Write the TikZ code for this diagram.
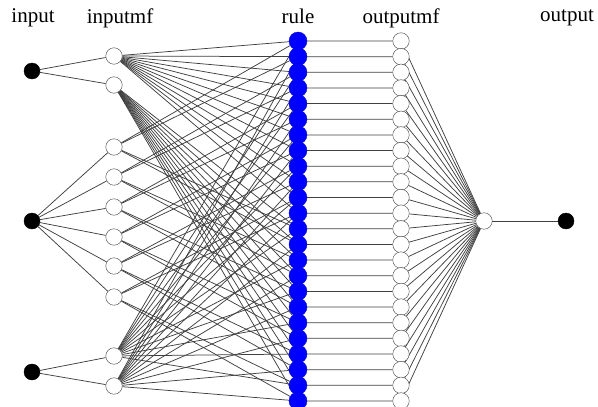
\documentclass[tikz,border=0pt]{standalone}
\usepackage{fontspec}
\setmainfont{Liberation Serif}
\usetikzlibrary{backgrounds}
\begin{document}
\begin{tikzpicture}[x=1pt,y=-1pt,
  instyle/.style={circle,draw=black,fill=black,inner sep=0pt,minimum size=16},
  mfstyle/.style={circle,draw=black!75,fill=white,inner sep=0pt,minimum size=16.5},
  rulestyle/.style={circle,draw=blue!85!black,fill=blue,inner sep=0pt,minimum size=18},
  wire/.style={draw=black!75,line width=0.75},
  title/.style={font=\fontsize{21}{24}\selectfont}]
\useasboundingbox (0,0) rectangle (598,407);

% titles
\node[title] (tin) at (33,18) {input};
\node[title] (tinmf) at (120,18) {inputmf};
\node[title] (trule) at (298,16) {rule};
\node[title] (toutmf) at (401,18) {outputmf};
\node[title] (tout) at (567,18) {output};

% inputs
\node[instyle] (in1) at (32,71) {};
\node[instyle] (in2) at (32,221) {};
\node[instyle] (in3) at (32,372) {};

% input membership functions
\foreach \y [count=\i] in {56,85,147,177,207,237,266,297,356,386}
  \node[mfstyle] (im\i) at (114,\y) {};

% rules and output membership functions
\foreach \i in {1,...,24} {
  \node[rulestyle] (r\i) at (298,{41+(\i-1)*15.65}) {};
  \node[mfstyle] (om\i) at (401,{41+(\i-1)*15.65}) {};
}

% output
\node[mfstyle] (sum) at (484,221) {};
\node[instyle] (out) at (566,221) {};

\begin{scope}[on background layer]
\foreach \i in {1,2} \draw[wire] (in1) -- (im\i);
\foreach \i in {3,...,8} \draw[wire] (in2) -- (im\i);
\foreach \i in {9,10} \draw[wire] (in3) -- (im\i);
\foreach \a in {1,2} \foreach \b in {1,...,6} \foreach \c in {1,2} {
  \pgfmathtruncatemacro{\r}{(\a-1)*12+(\b-1)*2+\c}
  \pgfmathtruncatemacro{\m}{2+\b}
  \pgfmathtruncatemacro{\n}{8+\c}
  \draw[wire] (im\a) -- (r\r) (im\m) -- (r\r) (im\n) -- (r\r);
}
\foreach \i in {1,...,24} \draw[wire] (r\i) -- (om\i) (om\i) -- (sum);
\draw[wire] (sum) -- (out);
\end{scope}
\end{tikzpicture}
\end{document}
